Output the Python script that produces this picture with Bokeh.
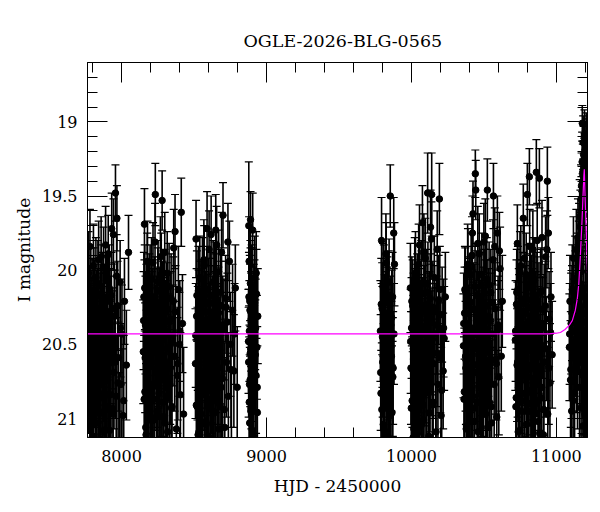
from bokeh.plotting import figure
from bokeh.models import Range1d, LinearAxis, SingleIntervalTicker, NumeralTickFormatter, ColumnDataSource, CustomJSTickFormatter
from bokeh.embed import file_html
from bokeh.resources import INLINE

TITLE = "OGLE-2026-BLG-0565"
X_LABEL = "HJD - 2450000"
Y_LABEL = "I magnitude"

# ---- season 1 ----
t1 = [7772, 7775, 7779, 7782, 7786, 7790, 7793, 7797, 7801, 7805, 7808, 7812, 7816, 7820, 7823, 7827, 7831, 7835, 7838, 7842,
      7846, 7850, 7853, 7857, 7861, 7865, 7869, 7872, 7876, 7880, 7884, 7888, 7892, 7896, 7900, 7904, 7908, 7912, 7917, 7921,
      7925, 7930, 7934, 7939, 7944, 7948, 7953, 7958, 7963, 7968, 7973, 7978, 7984, 7990, 7996, 8003, 8010, 8020, 8033, 8048,
      7774, 7777, 7781, 7784, 7788, 7791, 7795, 7799, 7803, 7806, 7810, 7814, 7818, 7822, 7825, 7829, 7833, 7837, 7840, 7844,
      7848, 7852, 7855, 7859, 7863, 7867, 7871, 7874, 7878, 7882, 7886, 7890, 7894, 7898, 7902, 7906, 7910, 7915, 7919, 7923,
      7927, 7932, 7937, 7942, 7950, 7956, 7966, 7976, 7993, 8015]
m1 = [20.02, 20.61, 20.35, 19.84, 20.88, 20.47, 21.05, 20.22, 20.53, 20.91, 20.14, 20.68, 20.39, 21.22, 20.05, 20.57, 20.81, 20.29, 20.66, 19.93,
      20.48, 21.14, 20.33, 20.72, 20.11, 20.96, 20.44, 20.58, 19.98, 20.83, 20.26, 21.31, 20.51, 20.19, 20.74, 20.41, 19.89, 20.63, 21.08, 20.36,
      20.55, 20.17, 20.93, 20.46, 19.76, 20.69, 20.31, 19.48, 20.85, 19.65, 20.24, 20.59, 21.18, 20.08, 20.77, 20.43, 20.98, 20.21, 20.64, 19.88,
      20.71, 20.29, 20.96, 20.43, 20.15, 20.82, 20.38, 21.12, 20.56, 19.97, 20.67, 20.24, 20.89, 20.47, 21.03, 20.32, 20.61, 20.09, 20.78, 20.52,
      21.19, 20.27, 20.73, 19.91, 20.45, 20.86, 20.18, 20.64, 21.08, 20.35, 20.55, 19.83, 20.94, 20.41, 20.21, 20.69, 21.25, 20.12, 20.58, 20.84,
      20.31, 19.72, 20.49, 20.97, 20.26, 20.62, 20.04, 20.76, 20.39, 20.88]
e1 = [0.28, 0.36, 0.31, 0.25, 0.42, 0.33, 0.47, 0.30, 0.35, 0.44, 0.29, 0.38, 0.32, 0.50, 0.27, 0.36, 0.41, 0.30, 0.37, 0.26,
      0.34, 0.48, 0.31, 0.39, 0.28, 0.45, 0.33, 0.36, 0.27, 0.43, 0.30, 0.52, 0.35, 0.29, 0.40, 0.33, 0.26, 0.37, 0.46, 0.32,
      0.35, 0.29, 0.44, 0.34, 0.24, 0.38, 0.31, 0.19, 0.42, 0.22, 0.30, 0.36, 0.49, 0.28, 0.40, 0.33, 0.45, 0.29, 0.37, 0.25,
      0.39, 0.32, 0.45, 0.34, 0.30, 0.42, 0.33, 0.49, 0.36, 0.28, 0.38, 0.31, 0.44, 0.35, 0.47, 0.32, 0.37, 0.29, 0.41, 0.35,
      0.51, 0.31, 0.40, 0.27, 0.34, 0.43, 0.30, 0.38, 0.47, 0.33, 0.36, 0.26, 0.45, 0.34, 0.30, 0.39, 0.53, 0.29, 0.37, 0.42,
      0.32, 0.24, 0.35, 0.46, 0.31, 0.38, 0.28, 0.41, 0.33, 0.44]

# ---- season 2 ----
t2 = [8150, 8154, 8158, 8161, 8165, 8169, 8173, 8177, 8181, 8185, 8189, 8193, 8197, 8201, 8205, 8209, 8213, 8217, 8221, 8225,
      8229, 8233, 8236, 8240, 8244, 8248, 8252, 8256, 8260, 8264, 8268, 8272, 8276, 8280, 8284, 8288, 8292, 8296, 8300, 8305,
      8310, 8315, 8320, 8325, 8330, 8336, 8342, 8348, 8354, 8360, 8366, 8372, 8378, 8385, 8392, 8399, 8406, 8412, 8420, 8428,
      8152, 8156, 8160, 8163, 8167, 8171, 8175, 8179, 8183, 8187, 8191, 8195, 8199, 8203, 8207, 8211, 8215, 8219, 8223, 8227,
      8231, 8238, 8242, 8246, 8250, 8254, 8258, 8262, 8266, 8270, 8274, 8278, 8282, 8286, 8290, 8294, 8298, 8302, 8307, 8312,
      8318, 8323, 8328, 8333, 8339, 8345, 8357, 8369, 8388, 8402]
m2 = [20.55, 20.18, 19.69, 20.82, 20.37, 21.11, 20.49, 20.03, 20.71, 20.26, 20.94, 20.42, 20.12, 20.63, 21.27, 20.33, 20.78, 19.95, 20.52, 20.87,
      20.21, 19.49, 20.45, 20.99, 20.30, 20.67, 20.08, 20.56, 21.16, 20.38, 19.91, 20.74, 20.47, 19.53, 20.25, 20.89, 20.60, 20.15, 21.03, 20.41,
      20.79, 20.02, 20.53, 20.35, 21.21, 20.66, 20.19, 20.92, 20.44, 19.85, 20.58, 20.28, 21.07, 20.71, 20.13, 20.50, 20.84, 19.61, 20.36, 20.97,
      20.34, 20.87, 20.12, 20.59, 21.06, 20.27, 20.73, 19.94, 20.48, 20.91, 20.19, 20.65, 21.15, 20.41, 20.06, 20.79, 20.31, 20.54, 21.01, 20.23,
      19.81, 20.69, 20.37, 20.95, 20.14, 20.57, 20.83, 20.29, 21.22, 20.46, 20.03, 20.72, 20.38, 20.99, 20.17, 20.61, 19.88, 20.44, 20.85, 20.26,
      21.09, 20.52, 20.11, 20.77, 20.33, 20.93, 20.21, 19.74, 20.63, 20.41]
e2 = [0.35, 0.30, 0.24, 0.42, 0.33, 0.48, 0.36, 0.28, 0.39, 0.31, 0.45, 0.34, 0.29, 0.38, 0.51, 0.32, 0.41, 0.27, 0.36, 0.43,
      0.30, 0.21, 0.35, 0.46, 0.31, 0.39, 0.28, 0.36, 0.49, 0.33, 0.27, 0.40, 0.35, 0.20, 0.31, 0.44, 0.37, 0.29, 0.47, 0.34,
      0.41, 0.28, 0.36, 0.33, 0.50, 0.38, 0.30, 0.45, 0.34, 0.26, 0.37, 0.31, 0.47, 0.39, 0.29, 0.35, 0.42, 0.23, 0.33, 0.45,
      0.33, 0.43, 0.29, 0.37, 0.46, 0.31, 0.40, 0.27, 0.35, 0.44, 0.30, 0.38, 0.49, 0.34, 0.28, 0.41, 0.32, 0.36, 0.46, 0.30,
      0.26, 0.39, 0.33, 0.45, 0.29, 0.36, 0.42, 0.31, 0.52, 0.34, 0.28, 0.40, 0.33, 0.46, 0.30, 0.37, 0.27, 0.34, 0.43, 0.31,
      0.48, 0.36, 0.29, 0.41, 0.32, 0.45, 0.30, 0.25, 0.38, 0.34]

# ---- season 3 ----
t3 = [8510, 8514, 8518, 8522, 8526, 8530, 8534, 8538, 8542, 8546, 8550, 8554, 8558, 8562, 8566, 8570, 8574, 8578, 8582, 8586,
      8590, 8594, 8598, 8602, 8606, 8610, 8614, 8618, 8622, 8626, 8630, 8634, 8638, 8642, 8646, 8650, 8654, 8658, 8662, 8666,
      8670, 8675, 8680, 8685, 8690, 8695, 8700, 8706, 8712, 8718, 8724, 8730, 8737, 8744, 8751, 8758, 8766, 8775, 8785, 8798,
      8512, 8516, 8520, 8524, 8528, 8532, 8536, 8540, 8544, 8548, 8552, 8556, 8560, 8564, 8568, 8572, 8576, 8580, 8584, 8588,
      8592, 8596, 8600, 8604, 8608, 8612, 8616, 8620, 8624, 8628, 8632, 8636, 8640, 8644, 8648, 8652, 8656, 8660, 8664, 8668,
      8672, 8677, 8683, 8688, 8698, 8709, 8721, 8734, 8755, 8780]
m3 = [20.63, 19.79, 20.31, 20.92, 20.46, 20.14, 21.09, 20.57, 20.25, 20.81, 20.39, 21.19, 20.06, 20.69, 20.48, 19.97, 20.76, 20.34, 21.02, 20.53,
      19.72, 20.87, 20.22, 20.61, 20.43, 21.13, 20.17, 19.76, 20.71, 20.37, 20.95, 20.28, 20.54, 20.09, 20.83, 19.73, 20.45, 21.24, 20.32, 20.66,
      20.01, 20.58, 20.91, 20.24, 19.88, 20.73, 19.63, 20.40, 21.06, 20.19, 20.62, 20.35, 20.85, 19.94, 20.50, 21.15, 20.27, 20.68, 20.12, 20.79,
      20.44, 20.91, 20.17, 20.63, 21.11, 20.32, 20.78, 20.05, 20.52, 20.97, 20.24, 20.69, 21.18, 20.39, 19.93, 20.84, 20.28, 20.57, 21.04, 20.13,
      20.71, 20.36, 20.92, 19.86, 20.48, 20.81, 20.22, 20.65, 21.23, 20.42, 20.08, 20.75, 20.34, 20.96, 20.19, 20.59, 19.83, 20.46, 20.88, 20.29,
      21.07, 20.54, 20.15, 20.79, 20.37, 20.94, 20.25, 19.81, 20.67, 20.43]
e3 = [0.37, 0.26, 0.32, 0.44, 0.35, 0.30, 0.47, 0.36, 0.31, 0.41, 0.33, 0.50, 0.28, 0.39, 0.35, 0.27, 0.40, 0.33, 0.46, 0.36,
      0.25, 0.43, 0.30, 0.37, 0.34, 0.48, 0.29, 0.26, 0.39, 0.33, 0.45, 0.31, 0.36, 0.28, 0.42, 0.24, 0.35, 0.52, 0.32, 0.38,
      0.28, 0.36, 0.44, 0.30, 0.27, 0.40, 0.22, 0.34, 0.47, 0.29, 0.37, 0.33, 0.43, 0.27, 0.35, 0.49, 0.31, 0.38, 0.29, 0.41,
      0.35, 0.44, 0.30, 0.38, 0.47, 0.32, 0.41, 0.28, 0.36, 0.45, 0.31, 0.39, 0.50, 0.34, 0.27, 0.42, 0.31, 0.36, 0.46, 0.29,
      0.40, 0.33, 0.44, 0.26, 0.35, 0.42, 0.30, 0.38, 0.52, 0.34, 0.28, 0.41, 0.33, 0.45, 0.30, 0.37, 0.26, 0.35, 0.43, 0.31,
      0.47, 0.36, 0.29, 0.41, 0.33, 0.45, 0.31, 0.26, 0.39, 0.34]

# ---- season 4 ----
t4 = [8876, 8878, 8880, 8883, 8885, 8888, 8890, 8893, 8895, 8898, 8900, 8903, 8905, 8908, 8910, 8913, 8916, 8919, 8922, 8925,
      8928, 8931, 8934, 8937, 8940,
      8877, 8879, 8881, 8882, 8884, 8886, 8887, 8889, 8891, 8892, 8894, 8896, 8899, 8902, 8906, 8911, 8917, 8923, 8929, 8936]
m4 = [20.48, 19.70, 19.94, 20.77, 20.21, 20.56, 19.66, 20.93, 20.35, 20.12, 20.64, 21.08, 19.73, 20.44, 20.85, 20.27, 20.59, 20.05, 21.17, 20.39,
      20.71, 20.16, 20.52, 20.96, 20.31,
      20.62, 20.18, 20.89, 20.41, 21.03, 20.27, 20.74, 20.09, 20.53, 20.95, 20.33, 20.68, 20.14, 20.81, 20.46, 21.12, 20.24, 20.57, 20.02, 20.79]
e4 = [0.35, 0.43, 0.30, 0.40, 0.31, 0.36, 0.19, 0.44, 0.33, 0.29, 0.38, 0.47, 0.25, 0.34, 0.42, 0.31, 0.37, 0.28, 0.50, 0.33,
      0.39, 0.30, 0.35, 0.45, 0.32,
      0.37, 0.30, 0.44, 0.34, 0.46, 0.31, 0.40, 0.29, 0.36, 0.45, 0.32, 0.39, 0.29, 0.42, 0.34, 0.49, 0.31, 0.37, 0.28, 0.41]

# ---- season 5 ----
t5 = [9786, 9790, 9794, 9798, 9802, 9806, 9810, 9814, 9818, 9822, 9826, 9830, 9834, 9838, 9842, 9846, 9850, 9854, 9858, 9862,
      9866, 9870, 9874, 9878, 9883,
      9788, 9792, 9796, 9800, 9804, 9808, 9812, 9816, 9820, 9824, 9828, 9832, 9836, 9840, 9844, 9848, 9856, 9864, 9872, 9880]
m5 = [20.41, 20.83, 19.80, 20.26, 20.62, 21.04, 20.13, 20.50, 20.91, 20.34, 19.95, 20.70, 20.22, 21.12, 20.47, 20.08, 20.79, 19.50, 20.37, 20.58,
      20.96, 20.18, 20.66, 19.75, 19.96,
      20.69, 20.23, 20.94, 20.45, 20.11, 20.77, 21.08, 20.36, 20.58, 19.89, 20.84, 20.29, 20.63, 21.15, 20.17, 20.51, 20.98, 20.32, 20.72, 20.43]
e5 = [0.34, 0.42, 0.29, 0.31, 0.37, 0.46, 0.30, 0.35, 0.44, 0.33, 0.27, 0.39, 0.31, 0.49, 0.34, 0.29, 0.41, 0.21, 0.33, 0.37,
      0.45, 0.30, 0.38, 0.24, 0.28,
      0.39, 0.31, 0.45, 0.34, 0.29, 0.41, 0.47, 0.33, 0.37, 0.27, 0.43, 0.31, 0.38, 0.50, 0.30, 0.35, 0.46, 0.32, 0.40, 0.34]

# ---- season 6 ----
t6 = [9993, 9997, 10001, 10005, 10009, 10013, 10017, 10021, 10025, 10028, 10032, 10036, 10040, 10044, 10048, 10052, 10056, 10060, 10064, 10068,
      10072, 10076, 10080, 10084, 10088, 10092, 10096, 10100, 10104, 10108, 10112, 10116, 10120, 10124, 10128, 10132, 10136, 10140, 10144, 10148,
      10153, 10158, 10163, 10168, 10173, 10178, 10183, 10188, 10193, 10199, 10205, 10212, 10219, 10226, 10234,
      9995, 9999, 10003, 10007, 10011, 10015, 10019, 10023, 10027, 10030, 10034, 10038, 10042, 10046, 10050, 10054, 10058, 10062, 10066, 10070,
      10074, 10078, 10082, 10086, 10090, 10094, 10098, 10102, 10106, 10110, 10114, 10118, 10122, 10126, 10130, 10134, 10138, 10142, 10150, 10160,
      10170, 10180, 10196, 10209, 10222]
m6 = [20.12, 20.66, 20.39, 20.88, 20.24, 20.53, 21.07, 20.31, 20.75, 20.02, 20.47, 20.95, 20.19, 20.61, 21.18, 20.36, 19.83, 20.72, 20.44, 20.09,
      20.86, 19.68, 20.55, 21.01, 20.28, 20.67, 19.92, 20.41, 20.80, 20.15, 19.48, 20.58, 21.12, 20.33, 20.70, 19.71, 20.49, 19.49, 20.91, 20.25,
      20.63, 20.05, 20.43, 21.22, 20.37, 19.86, 20.77, 20.20, 19.52, 20.59, 20.98, 20.30, 20.68, 20.46, 20.18,
      20.48, 20.93, 20.21, 20.67, 21.13, 20.34, 20.79, 20.06, 20.55, 20.98, 20.27, 20.71, 21.19, 20.42, 19.96, 20.86, 20.31, 20.59, 21.05, 20.16,
      20.74, 20.38, 20.91, 19.88, 20.51, 20.83, 20.24, 20.65, 21.21, 20.45, 20.09, 20.77, 20.35, 20.96, 20.19, 20.61, 19.79, 20.47, 20.89, 20.28,
      21.09, 20.56, 20.13, 20.81, 20.39]
e6 = [0.30, 0.38, 0.34, 0.43, 0.31, 0.36, 0.47, 0.32, 0.40, 0.28, 0.35, 0.45, 0.30, 0.37, 0.51, 0.33, 0.27, 0.39, 0.34, 0.29,
      0.42, 0.25, 0.36, 0.46, 0.31, 0.38, 0.27, 0.34, 0.41, 0.29, 0.27, 0.37, 0.48, 0.32, 0.39, 0.25, 0.35, 0.28, 0.44, 0.31,
      0.37, 0.28, 0.34, 0.52, 0.33, 0.26, 0.41, 0.30, 0.24, 0.37, 0.46, 0.32, 0.39, 0.35, 0.30,
      0.35, 0.44, 0.30, 0.39, 0.48, 0.32, 0.41, 0.28, 0.36, 0.45, 0.31, 0.39, 0.51, 0.34, 0.27, 0.43, 0.32, 0.37, 0.46, 0.29,
      0.40, 0.33, 0.44, 0.26, 0.35, 0.42, 0.30, 0.38, 0.52, 0.34, 0.28, 0.41, 0.33, 0.45, 0.30, 0.37, 0.25, 0.35, 0.43, 0.31,
      0.47, 0.36, 0.29, 0.41, 0.33]

# ---- season 7 ----
t7 = [10359, 10363, 10367, 10372, 10376, 10380, 10384, 10388, 10392, 10396, 10400, 10404, 10408, 10412, 10416, 10421, 10425, 10429, 10433, 10437,
      10441, 10444, 10448, 10452, 10456, 10460, 10464, 10468, 10472, 10476, 10480, 10484, 10488, 10492, 10496, 10500, 10504, 10508, 10512, 10516,
      10520, 10524, 10528, 10533, 10538, 10543, 10548, 10553, 10558, 10563, 10566, 10571, 10577, 10583, 10589, 10593, 10598, 10603, 10607, 10612,
      10620, 10627,
      10361, 10365, 10369, 10374, 10378, 10382, 10386, 10390, 10394, 10398, 10402, 10406, 10410, 10414, 10418, 10423, 10427, 10431, 10435, 10439,
      10446, 10450, 10454, 10458, 10462, 10466, 10470, 10474, 10478, 10482, 10486, 10490, 10494, 10498, 10502, 10506, 10510, 10514, 10518, 10522,
      10526, 10531, 10536, 10541, 10546, 10551, 10561, 10575, 10586, 10601]
m7 = [20.51, 20.87, 20.29, 20.14, 20.66, 21.05, 20.38, 19.96, 20.74, 20.45, 21.16, 20.22, 20.59, 20.03, 20.81, 19.75, 19.62, 20.42, 20.93, 20.27,
      19.35, 19.46, 20.64, 20.17, 20.49, 21.09, 20.33, 19.89, 20.71, 20.55, 20.10, 20.84, 20.36, 21.21, 20.47, 19.81, 20.62, 20.24, 20.97, 20.40,
      20.06, 19.46, 20.69, 20.31, 20.89, 20.53, 20.15, 21.03, 20.43, 19.93, 19.50, 20.77, 20.26, 20.60, 20.99, 19.75, 20.37, 20.72, 19.87, 19.99,
      20.58, 20.21,
      20.36, 20.82, 20.13, 20.58, 21.07, 20.29, 20.74, 19.99, 20.47, 20.93, 20.21, 20.66, 21.14, 20.39, 19.90, 20.85, 20.26, 20.53, 21.02, 20.11,
      20.69, 20.33, 20.89, 19.82, 20.44, 20.79, 20.18, 20.61, 21.19, 20.41, 20.03, 20.72, 20.30, 20.95, 20.15, 20.56, 19.77, 20.42, 20.86, 20.24,
      21.06, 20.50, 20.10, 20.76, 20.34, 20.92, 20.22, 19.84, 20.63, 20.40]
e7 = [0.35, 0.42, 0.31, 0.29, 0.38, 0.46, 0.33, 0.27, 0.40, 0.35, 0.49, 0.30, 0.37, 0.28, 0.41, 0.25, 0.22, 0.34, 0.44, 0.31,
      0.16, 0.20, 0.38, 0.30, 0.35, 0.47, 0.32, 0.27, 0.39, 0.36, 0.29, 0.42, 0.33, 0.51, 0.35, 0.26, 0.37, 0.31, 0.45, 0.34,
      0.28, 0.21, 0.39, 0.32, 0.43, 0.36, 0.29, 0.46, 0.34, 0.27, 0.22, 0.40, 0.31, 0.37, 0.45, 0.25, 0.33, 0.39, 0.26, 0.28,
      0.37, 0.31,
      0.34, 0.43, 0.29, 0.37, 0.46, 0.31, 0.40, 0.27, 0.35, 0.44, 0.30, 0.38, 0.49, 0.33, 0.26, 0.42, 0.31, 0.36, 0.46, 0.29,
      0.39, 0.32, 0.44, 0.25, 0.34, 0.41, 0.30, 0.37, 0.51, 0.33, 0.28, 0.40, 0.32, 0.45, 0.29, 0.36, 0.25, 0.34, 0.43, 0.31,
      0.47, 0.35, 0.29, 0.40, 0.32, 0.45, 0.30, 0.26, 0.38, 0.33]

# ---- season 8 ----
t8 = [10717, 10721, 10725, 10729, 10731, 10735, 10739, 10743, 10747, 10751, 10755, 10759, 10763, 10767, 10772, 10776, 10780, 10784, 10788, 10792,
      10796, 10800, 10804, 10808, 10812, 10814, 10818, 10822, 10826, 10830, 10834, 10838, 10842, 10846, 10850, 10854, 10858, 10862, 10866, 10870,
      10874, 10878, 10883, 10887, 10891, 10896, 10901, 10906, 10911, 10916, 10921, 10926, 10931, 10938, 10941, 10945, 10950, 10956, 10963, 10971,
      10719, 10723, 10727, 10733, 10737, 10741, 10745, 10749, 10753, 10757, 10761, 10765, 10769, 10774, 10778, 10782, 10786, 10790, 10794, 10798,
      10802, 10806, 10810, 10816, 10820, 10824, 10828, 10832, 10836, 10840, 10844, 10848, 10852, 10856, 10860, 10864, 10868, 10872, 10876, 10880,
      10885, 10889, 10894, 10899, 10904, 10914, 10924, 10935, 10948, 10960]
m8 = [20.47, 20.92, 20.23, 20.64, 19.82, 20.13, 20.79, 20.36, 21.08, 20.55, 19.97, 20.71, 20.28, 20.88, 19.65, 20.42, 21.14, 20.19, 20.60, 20.03,
      20.83, 19.49, 20.38, 20.95, 20.25, 19.37, 20.67, 20.11, 20.52, 21.19, 20.31, 19.86, 20.74, 20.44, 20.07, 20.90, 20.34, 19.34, 20.58, 20.21,
      21.02, 20.48, 19.38, 20.69, 20.15, 20.86, 19.78, 20.39, 21.11, 20.27, 20.62, 19.91, 20.53, 19.40, 20.97, 19.75, 20.33, 20.76, 20.18, 20.57,
      20.41, 20.86, 20.15, 20.62, 21.09, 20.30, 20.77, 20.01, 20.50, 20.95, 20.23, 20.68, 21.17, 20.37, 19.92, 20.83, 20.28, 20.55, 21.04, 20.12,
      20.72, 20.35, 20.90, 19.84, 20.47, 20.81, 20.20, 20.64, 21.22, 20.43, 20.06, 20.75, 20.33, 20.97, 20.17, 20.59, 19.80, 20.45, 20.88, 20.26,
      21.10, 20.53, 20.14, 20.79, 20.36, 20.94, 20.24, 19.86, 20.66, 20.42]
e8 = [0.34, 0.43, 0.30, 0.38, 0.26, 0.29, 0.41, 0.33, 0.47, 0.36, 0.27, 0.39, 0.31, 0.44, 0.23, 0.34, 0.50, 0.30, 0.37, 0.28,
      0.42, 0.21, 0.33, 0.45, 0.31, 0.19, 0.38, 0.29, 0.36, 0.51, 0.32, 0.26, 0.40, 0.34, 0.28, 0.44, 0.33, 0.22, 0.37, 0.30,
      0.46, 0.35, 0.20, 0.39, 0.29, 0.43, 0.25, 0.34, 0.48, 0.31, 0.37, 0.27, 0.35, 0.23, 0.45, 0.24, 0.32, 0.40, 0.30, 0.36,
      0.34, 0.43, 0.29, 0.37, 0.46, 0.31, 0.40, 0.27, 0.35, 0.44, 0.30, 0.38, 0.49, 0.33, 0.26, 0.42, 0.31, 0.36, 0.46, 0.29,
      0.39, 0.32, 0.44, 0.25, 0.34, 0.41, 0.30, 0.37, 0.51, 0.33, 0.28, 0.40, 0.32, 0.45, 0.29, 0.36, 0.25, 0.34, 0.43, 0.31,
      0.47, 0.35, 0.29, 0.40, 0.32, 0.45, 0.30, 0.26, 0.38, 0.33]

# ---- season 9 (event) ----
t9 = [11090, 11094, 11098, 11102, 11106, 11110, 11114, 11118, 11122, 11126, 11130, 11134, 11138, 11142, 11146, 11149, 11152, 11155, 11158, 11160,
      11161, 11164, 11166, 11168, 11170, 11171, 11172, 11174, 11175, 11176, 11178, 11179, 11180, 11181, 11183, 11184, 11185, 11186, 11187, 11188,
      11189, 11190, 11192, 11193, 11194, 11196, 11197, 11198, 11199, 11200, 11201, 11203, 11205, 11206, 11207, 11209, 11211, 11212, 11213,
      11092, 11100, 11108, 11116, 11124, 11132, 11140, 11147, 11153, 11157, 11163, 11167, 11169, 11173, 11177, 11182, 11185, 11189, 11191, 11195,
      11198, 11202, 11204, 11208, 11210, 11214]
m9 = [20.52, 20.21, 20.74, 20.36, 20.95, 20.13, 20.58, 19.92, 20.41, 20.83, 20.07, 20.49, 19.86, 20.31, 20.68, 19.78, 20.22, 19.95, 20.44, 20.79,
      19.64, 20.09, 19.71, 19.88, 19.52, 20.93, 20.01, 19.43, 20.56, 19.69, 19.27, 19.01, 20.62, 19.58, 19.36, 21.05, 19.14, 19.47, 20.35, 19.22,
      20.18, 19.63, 19.31, 20.88, 19.09, 19.44, 20.97, 19.19, 20.47, 19.56, 20.12, 19.26, 20.71, 19.12, 21.12, 19.38, 20.29, 19.21, 20.64,
      20.43, 20.67, 20.29, 20.88, 20.51, 20.17, 20.59, 20.04, 20.37, 19.82, 20.55, 19.97, 20.28, 19.61, 20.14, 19.34, 20.71, 19.51, 20.43, 19.28,
      20.81, 19.42, 20.23, 19.17, 20.52, 19.35]
e9 = [0.36, 0.31, 0.40, 0.34, 0.45, 0.30, 0.37, 0.28, 0.35, 0.42, 0.30, 0.36, 0.27, 0.33, 0.39, 0.26, 0.31, 0.28, 0.35, 0.41,
      0.25, 0.30, 0.25, 0.27, 0.23, 0.44, 0.29, 0.22, 0.37, 0.25, 0.20, 0.12, 0.38, 0.23, 0.21, 0.47, 0.18, 0.22, 0.34, 0.19,
      0.31, 0.24, 0.20, 0.43, 0.17, 0.22, 0.45, 0.19, 0.36, 0.23, 0.30, 0.20, 0.40, 0.18, 0.48, 0.21, 0.33, 0.19, 0.39,
      0.34, 0.39, 0.32, 0.43, 0.36, 0.30, 0.37, 0.29, 0.33, 0.27, 0.36, 0.28, 0.32, 0.24, 0.30, 0.21, 0.40, 0.23, 0.35, 0.20,
      0.42, 0.22, 0.31, 0.19, 0.36, 0.21]

# ---- model light curve ----
model_t = [7765, 10950, 11000, 11028, 11060, 11090, 11110, 11131, 11145, 11155, 11166, 11177, 11184, 11190, 11193,
           11198, 11204, 11210, 11215]
model_m = [20.43, 20.43, 20.425, 20.42, 20.40, 20.37, 20.34, 20.27, 20.19, 20.09, 19.90, 19.67, 19.50, 19.36, 19.32,
           19.50, 19.67, 19.85, 20.02]

X_RANGE = (7765, 11215)
Y_RANGE = (21.128, 18.6)

t_all = t1 + t2 + t3 + t4 + t5 + t6 + t7 + t8 + t9
m_all = m1 + m2 + m3 + m4 + m5 + m6 + m7 + m8 + m9
e_all = e1 + e2 + e3 + e4 + e5 + e6 + e7 + e8 + e9

src = ColumnDataSource(dict(
    t=t_all, m=m_all,
    lo=[a - b for a, b in zip(m_all, e_all)],
    hi=[a + b for a, b in zip(m_all, e_all)],
))

FONT = "DejaVu Serif"

p = figure(width=600, height=512, output_backend="svg", toolbar_location=None,
           x_range=Range1d(*X_RANGE), y_range=Range1d(*Y_RANGE),
           x_axis_type=None, y_axis_type=None,
           min_border_left=87, min_border_right=13, min_border_top=62, min_border_bottom=75,
           background_fill_color="white", border_fill_color="white")
p.grid.visible = False
p.outline_line_color = "black"
p.outline_line_width = 1

p.title.text = TITLE
p.title.text_font = FONT
p.title.text_font_size = "17.5px"
p.title.text_font_style = "normal"
p.title.align = "left"
p.title.offset = 156
p.title.text_color = "black"
p.title.standoff = 24


def make_axis(ticker_interval, labels, fmt):
    ax = LinearAxis(ticker=SingleIntervalTicker(interval=ticker_interval, num_minor_ticks=5))
    if labels:
        ax.formatter = NumeralTickFormatter(format=fmt)
    else:
        ax.formatter = CustomJSTickFormatter(code="return '';")
        ax.major_label_standoff = 0
    ax.major_tick_in = 20
    ax.major_tick_out = 0
    ax.minor_tick_in = 10
    ax.minor_tick_out = 0
    ax.axis_line_color = "black"
    ax.major_tick_line_color = "black"
    ax.minor_tick_line_color = "black"
    ax.major_label_text_font = FONT
    ax.major_label_text_font_size = "16px"
    ax.major_label_text_color = "black"
    ax.axis_label_text_font = FONT
    ax.axis_label_text_font_size = "17px"
    ax.axis_label_text_font_style = "normal"
    ax.axis_label_text_color = "black"
    return ax


xb = make_axis(1000, True, "0")
xb.axis_label = X_LABEL
xb.major_label_standoff = 12
xb.axis_label_standoff = 11
p.add_layout(xb, "below")
p.add_layout(make_axis(1000, False, "0"), "above")

yl = make_axis(0.5, True, "0.[0]")
yl.axis_label = Y_LABEL
yl.major_label_standoff = 10
yl.axis_label_standoff = 5
p.add_layout(yl, "left")
p.add_layout(make_axis(0.5, False, "0.[0]"), "right")

# error bars
p.segment(x0="t", y0="lo", x1="t", y1="hi", source=src, line_color="black", line_width=1.6)
p.scatter(x="t", y="lo", source=src, marker="dash", size=8, line_color="black", line_width=1.2)
p.scatter(x="t", y="hi", source=src, marker="dash", size=8, line_color="black", line_width=1.2)
# points
p.scatter(x="t", y="m", source=src, marker="circle", size=6.5, fill_color="black", line_color="black")
# model
p.line(model_t, model_m, line_color="#ff00ff", line_width=1.2)

open("out.html", "w").write(file_html(p, INLINE))
